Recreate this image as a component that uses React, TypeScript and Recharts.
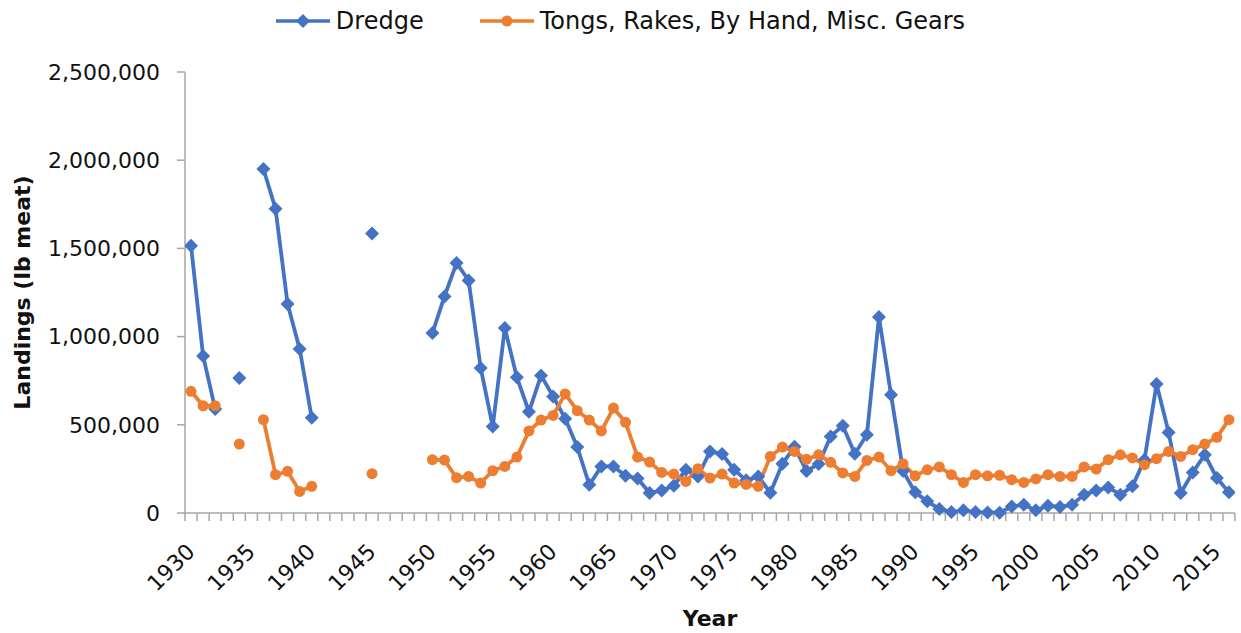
import { LineChart, Line, XAxis, YAxis, Legend, Label } from "recharts"

// Landings by gear type, 1930-2016 (null = no data that year)
const years = [
  1930, 1931, 1932, 1933, 1934, 1935, 1936, 1937, 1938, 1939,
  1940, 1941, 1942, 1943, 1944, 1945, 1946, 1947, 1948, 1949,
  1950, 1951, 1952, 1953, 1954, 1955, 1956, 1957, 1958, 1959,
  1960, 1961, 1962, 1963, 1964, 1965, 1966, 1967, 1968, 1969,
  1970, 1971, 1972, 1973, 1974, 1975, 1976, 1977, 1978, 1979,
  1980, 1981, 1982, 1983, 1984, 1985, 1986, 1987, 1988, 1989,
  1990, 1991, 1992, 1993, 1994, 1995, 1996, 1997, 1998, 1999,
  2000, 2001, 2002, 2003, 2004, 2005, 2006, 2007, 2008, 2009,
  2010, 2011, 2012, 2013, 2014, 2015, 2016,
]

const dredge = [
  1515000, 890000, 590000, null, 765000, null, 1950000, 1725000, 1185000, 930000,
  540000, null, null, null, null, 1585000, null, null, null, null,
  1020000, 1228000, 1417000, 1318000, 822000, 490000, 1049000, 769000, 574000, 780000,
  661000, 535000, 374000, 160000, 264000, 264000, 211000, 196000, 113000, 128000,
  155000, 245000, 207000, 349000, 334000, 245000, 185000, 207000, 115000, 279000,
  375000, 238000, 278000, 434000, 495000, 336000, 444000, 1111000, 671000, 238000,
  117000, 66000, 23000, 5000, 15000, 5000, 3000, 2000, 37000, 47000,
  15000, 41000, 34000, 47000, 104000, 128000, 145000, 104000, 151000, 302000,
  731000, 457000, 113000, 230000, 330000, 198000, 117000,
]

const tongs = [
  690000, 608000, 608000, null, 391000, null, 529000, 217000, 236000, 122000,
  151000, null, null, null, null, 223000, null, null, null, null,
  302000, 300000, 200000, 207000, 170000, 240000, 264000, 317000, 465000, 527000,
  553000, 675000, 580000, 527000, 465000, 595000, 514000, 317000, 289000, 230000,
  221000, 179000, 251000, 198000, 221000, 170000, 162000, 151000, 321000, 374000,
  349000, 304000, 330000, 287000, 227000, 207000, 298000, 317000, 240000, 279000,
  211000, 245000, 261000, 217000, 173000, 217000, 211000, 214000, 189000, 173000,
  193000, 217000, 207000, 207000, 261000, 249000, 302000, 330000, 312000, 274000,
  308000, 349000, 321000, 359000, 391000, 429000, 529000,
]

const yTicks = [0, 500000, 1000000, 1500000, 2000000, 2500000]
const yearLabels = [
  1930, 1935, 1940, 1945, 1950, 1955, 1960, 1965, 1970, 1975,
  1980, 1985, 1990, 1995, 2000, 2005, 2010, 2015,
]

const BLUE = "#4472C4"
const ORANGE = "#ED7D31"
const AXIS = "#A6A6A6"
const TEXT = "#111"
const FONT = '"DejaVu Sans", sans-serif'

const CHART_W = 1241
const CHART_H = 633
const MARGIN = { top: 72, right: 6, bottom: 0, left: 0 }
const Y_AXIS_W = 185
const X_AXIS_H = 120
const PLOT_W = CHART_W - MARGIN.left - MARGIN.right - Y_AXIS_W
const HALF_STEP = PLOT_W / years.length / 2

const chartData = years.map((year, i) => ({
  year,
  dredge: dredge[i],
  tongs: tongs[i],
}))

// Excel puts the tick marks between the categories
const boundaries = [...years.map((y) => y - 0.5), years[years.length - 1] + 0.5]

function YearTick(props: any) {
  const { x, y, payload } = props
  const year = payload.value + 0.5
  if (!yearLabels.includes(year)) return <g />
  const ax = x + HALF_STEP + 5
  const ay = y + 30
  return (
    <text
      x={ax}
      y={ay}
      textAnchor="end"
      transform={`rotate(-45 ${ax} ${ay})`}
      fontSize={22}
      fontFamily={FONT}
      fill={TEXT}
    >
      {year}
    </text>
  )
}

function DiamondDot(props: any) {
  const { cx, cy, value, index } = props
  if (value == null || cy == null) return <g key={`d-${index}`} />
  const r = 7
  return (
    <path
      key={`d-${index}`}
      d={`M${cx},${cy - r}L${cx + r},${cy}L${cx},${cy + r}L${cx - r},${cy}Z`}
      fill={BLUE}
    />
  )
}

function CircleDot(props: any) {
  const { cx, cy, value, index } = props
  if (value == null || cy == null) return <g key={`c-${index}`} />
  return <circle key={`c-${index}`} cx={cx} cy={cy} r={5.5} fill={ORANGE} />
}

function YTitle(props: any) {
  const vb = props.viewBox || { x: 0, y: 72, width: 185, height: 441 }
  const cx = vb.x + 22
  const cy = vb.y + vb.height / 2
  return (
    <text
      x={cx}
      y={cy}
      transform={`rotate(-90 ${cx} ${cy})`}
      textAnchor="middle"
      dominantBaseline="central"
      fontSize={22}
      fontWeight="bold"
      fontFamily={FONT}
      fill={TEXT}
    >
      Landings (lb meat)
    </text>
  )
}

function XTitle(props: any) {
  const vb = props.viewBox || { x: 185, y: 513, width: 1050, height: 120 }
  const cx = vb.x + vb.width / 2
  const cy = vb.y + 105
  return (
    <text
      x={cx}
      y={cy}
      textAnchor="middle"
      dominantBaseline="central"
      fontSize={22}
      fontWeight="bold"
      fontFamily={FONT}
      fill={TEXT}
    >
      Year
    </text>
  )
}

function LegendItem({ color, shape, label }: { color: string; shape: string; label: string }) {
  return (
    <div style={{ display: "flex", alignItems: "center" }}>
      <svg width={54} height={20}>
        <line x1={0} y1={10} x2={54} y2={10} stroke={color} strokeWidth={3.5} />
        {shape === "diamond" ? (
          <path d="M27,3L34,10L27,17L20,10Z" fill={color} />
        ) : (
          <circle cx={27} cy={10} r={5.5} fill={color} />
        )}
      </svg>
      <span style={{ marginLeft: 6 }}>{label}</span>
    </div>
  )
}

function LegendContent() {
  return (
    <div
      style={{
        display: "flex",
        justifyContent: "center",
        alignItems: "center",
        height: 30,
        fontFamily: FONT,
        fontSize: 24,
        color: TEXT,
      }}
    >
      <LegendItem color={BLUE} shape="diamond" label="Dredge" />
      <div style={{ width: 56 }} />
      <LegendItem color={ORANGE} shape="circle" label="Tongs, Rakes, By Hand, Misc. Gears" />
    </div>
  )
}

export default function App() {
  return (
    <div style={{ position: "absolute", left: 0, top: 0, width: CHART_W, height: CHART_H, background: "#fff" }}>
      <LineChart width={CHART_W} height={CHART_H} data={chartData} margin={MARGIN} style={{ fontFamily: FONT }}>
        <XAxis
          dataKey="year"
          type="number"
          domain={[boundaries[0], boundaries[boundaries.length - 1]]}
          ticks={boundaries}
          interval={0}
          height={X_AXIS_H}
          tickSize={8}
          axisLine={{ stroke: AXIS, strokeWidth: 1.5 }}
          tickLine={{ stroke: AXIS, strokeWidth: 1.5 }}
          tick={YearTick}
          allowDataOverflow
        >
          <Label content={XTitle} />
        </XAxis>
        <YAxis
          domain={[0, 2500000]}
          ticks={yTicks}
          interval={0}
          width={Y_AXIS_W}
          tickSize={8}
          tickMargin={17}
          axisLine={{ stroke: AXIS, strokeWidth: 1.5 }}
          tickLine={{ stroke: AXIS, strokeWidth: 1.5 }}
          tick={{ fill: TEXT, fontSize: 22, fontFamily: FONT }}
          tickFormatter={(v: number) => v.toLocaleString("en-US")}
        >
          <Label content={YTitle} />
        </YAxis>
        <Legend
          verticalAlign="middle"
          layout="horizontal"
          content={LegendContent}
          wrapperStyle={{ top: 6, left: 0, width: CHART_W, height: 30 }}
        />
        <Line
          type="linear"
          dataKey="dredge"
          stroke={BLUE}
          strokeWidth={3.8}
          dot={DiamondDot}
          activeDot={false}
          isAnimationActive={false}
        />
        <Line
          type="linear"
          dataKey="tongs"
          stroke={ORANGE}
          strokeWidth={3.8}
          dot={CircleDot}
          activeDot={false}
          isAnimationActive={false}
        />
      </LineChart>
    </div>
  )
}
